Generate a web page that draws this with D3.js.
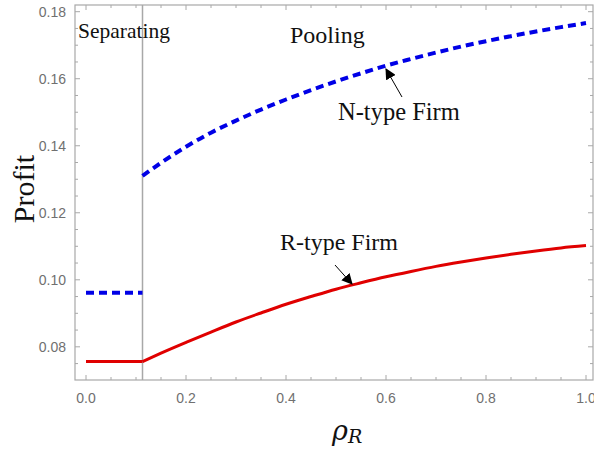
<!DOCTYPE html>
<html>
<head>
<meta charset="utf-8">
<script src="https://cdn.jsdelivr.net/npm/d3@7"></script>
<style>
  body { margin: 0; background: #fff; }
  svg { display: block; }
</style>
</head>
<body>
<svg id="chart" width="594" height="453"></svg>
<script>
// data
var cutoff = 0.113;
var rhoPool = [0.113, 0.15, 0.2, 0.25, 0.3, 0.35, 0.4, 0.45, 0.5, 0.55, 0.6, 0.65, 0.7, 0.75, 0.8, 0.85, 0.9, 0.95, 1.0];
var nPool = [0.1310, 0.1349, 0.1397, 0.1439, 0.1475, 0.1508, 0.1538, 0.1566, 0.1592, 0.1616, 0.1639, 0.1659, 0.1678, 0.1696, 0.1712, 0.1727, 0.1741, 0.1754, 0.1766];
var rPool = [0.0756, 0.0781, 0.0813, 0.0844, 0.0874, 0.0901, 0.0927, 0.0950, 0.0972, 0.0991, 0.1009, 0.1025, 0.1040, 0.1053, 0.1065, 0.1076, 0.1086, 0.1095, 0.1102];
var rhoSep = [0, 0.113];
var nSep = [0.0961, 0.0961];
var rSep = [0.0756, 0.0756];
var xTicks = [0, 0.2, 0.4, 0.6, 0.8, 1.0];
var yTicks = [0.08, 0.10, 0.12, 0.14, 0.16, 0.18];

var svg = d3.select("#chart");
var x = d3.scaleLinear().domain([-0.022, 1.014]).range([75, 593]);
var y = d3.scaleLinear().domain([0.0701, 0.182]).range([380, 5]);

var frameColor = "#a8a8a8";

// minor ticks every 0.05 / 0.005
var xMinor = d3.range(0, 1.0001, 0.05);
var yMinor = d3.range(0.075, 0.1801, 0.005);

function isMajor(v, list) {
    return list.some(function (t) { return Math.abs(t - v) < 1e-6; });
}

var g = svg.append("g");

// frame
g.append("rect")
    .attr("x", x(-0.022)).attr("y", y(0.182))
    .attr("width", x(1.014) - x(-0.022))
    .attr("height", y(0.0701) - y(0.182))
    .attr("fill", "none").attr("stroke", frameColor).attr("stroke-width", 1.2);

// ticks, inward on all four sides
xMinor.forEach(function (v) {
    var len = isMajor(v, xTicks) ? 5 : 3;
    g.append("line").attr("x1", x(v)).attr("x2", x(v)).attr("y1", 380).attr("y2", 380 - len)
        .attr("stroke", frameColor);
    g.append("line").attr("x1", x(v)).attr("x2", x(v)).attr("y1", 5).attr("y2", 5 + len)
        .attr("stroke", frameColor);
});
yMinor.forEach(function (v) {
    var len = isMajor(v, yTicks) ? 5 : 3;
    g.append("line").attr("x1", 75).attr("x2", 75 + len).attr("y1", y(v)).attr("y2", y(v))
        .attr("stroke", frameColor);
    g.append("line").attr("x1", 593).attr("x2", 593 - len).attr("y1", y(v)).attr("y2", y(v))
        .attr("stroke", frameColor);
});

// tick labels
g.selectAll(".xl").data(xTicks).enter().append("text")
    .attr("x", function (d) { return x(d); }).attr("y", 403)
    .attr("text-anchor", "middle")
    .attr("font-family", "Liberation Sans, Arial, sans-serif").attr("font-size", 14)
    .attr("fill", "#707070")
    .text(function (d) { return d.toFixed(1); });
g.selectAll(".yl").data(yTicks).enter().append("text")
    .attr("x", 66).attr("y", function (d) { return y(d) + 5; })
    .attr("text-anchor", "end")
    .attr("font-family", "Liberation Sans, Arial, sans-serif").attr("font-size", 14)
    .attr("fill", "#707070")
    .text(function (d) { return d.toFixed(2); });

// separating cutoff
g.append("line").attr("x1", x(cutoff)).attr("x2", x(cutoff)).attr("y1", 5).attr("y2", 380)
    .attr("stroke", frameColor).attr("stroke-width", 1.5);

var line = d3.line().x(function (d) { return x(d[0]); }).y(function (d) { return y(d[1]); })
    .curve(d3.curveMonotoneX);

function draw(xs, ys, color, width, dash) {
    var p = g.append("path")
        .datum(d3.zip(xs, ys))
        .attr("d", line)
        .attr("fill", "none")
        .attr("stroke", color)
        .attr("stroke-width", width);
    if (dash) p.attr("stroke-dasharray", dash);
}
draw(rhoSep, nSep, "#0000e6", 4, "8,5");
draw(rhoPool, nPool, "#0000e6", 4, "8,5");
draw(rhoSep, rSep, "#e00000", 3);
draw(rhoPool, rPool, "#e00000", 3);

// arrows
svg.append("defs").append("marker")
    .attr("id", "arrow").attr("viewBox", "0 0 10 10")
    .attr("refX", 9).attr("refY", 5)
    .attr("markerWidth", 11).attr("markerHeight", 11)
    .attr("markerUnits", "userSpaceOnUse")
    .attr("orient", "auto")
    .append("path").attr("d", "M0,0 L10,5 L0,10 z").attr("fill", "#000");

g.append("line").attr("x1", 402).attr("y1", 97).attr("x2", 386).attr("y2", 69)
    .attr("stroke", "#000").attr("stroke-width", 1).attr("marker-end", "url(#arrow)");
g.append("line").attr("x1", 335).attr("y1", 265).attr("x2", 352).attr("y2", 284)
    .attr("stroke", "#000").attr("stroke-width", 1).attr("marker-end", "url(#arrow)");

// annotations
var serif = "Liberation Serif, Times New Roman, serif";
function label(tx, ty, str, size) {
    g.append("text").attr("x", tx).attr("y", ty)
        .attr("font-family", serif).attr("font-size", size).attr("fill", "#111")
        .text(str);
}
label(78, 38, "Separating", 21.5);
label(290, 43, "Pooling", 24);
label(338, 120, "N-type Firm", 24.5);
label(280, 250, "R-type Firm", 24);

// axis titles
g.append("text")
    .attr("transform", "translate(34,189) rotate(-90)")
    .attr("text-anchor", "middle")
    .attr("font-family", serif).attr("font-size", 30).attr("fill", "#111")
    .text("Profit");

var xt = g.append("text").attr("x", 332).attr("y", 440)
    .attr("font-family", "DejaVu Serif, serif").attr("fill", "#111");
xt.append("tspan").attr("font-size", 27).attr("font-style", "italic").text("ρ");
xt.append("tspan").attr("font-size", 19).attr("font-style", "italic").attr("dy", 3).text("R");
</script>
</body>
</html>
